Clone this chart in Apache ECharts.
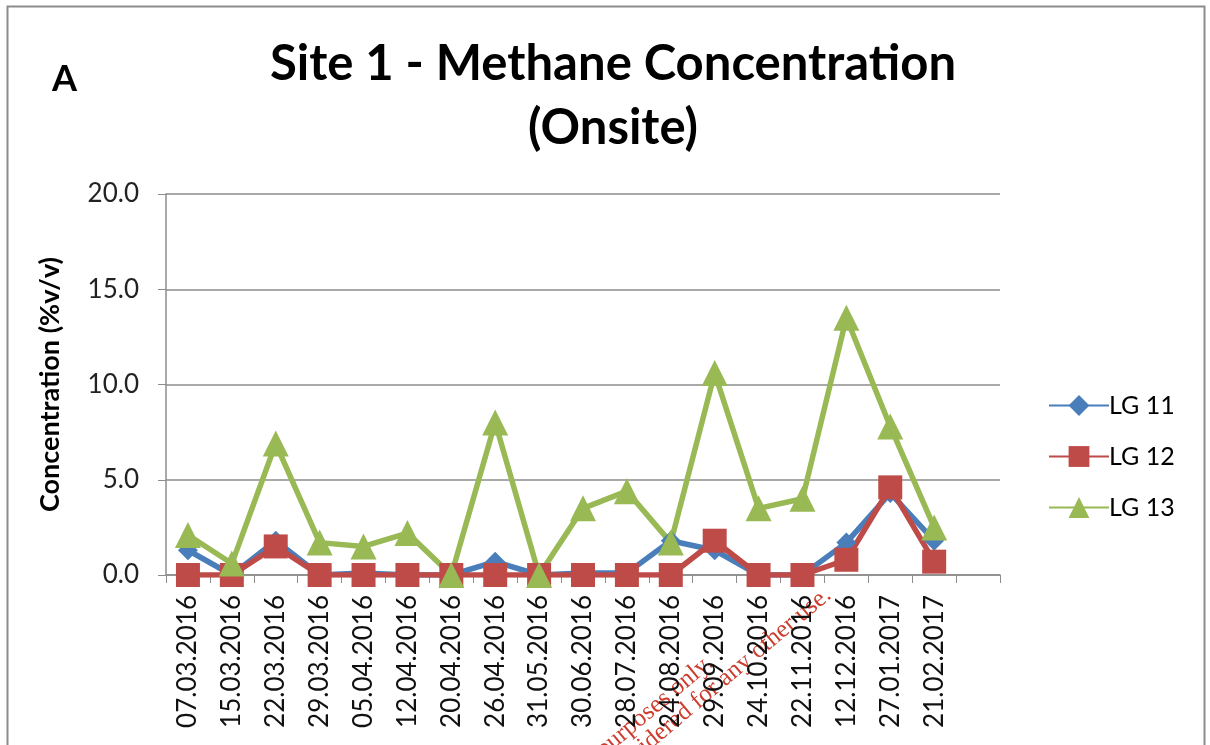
<!DOCTYPE html>
<html>
<head>
<meta charset="utf-8">
<script src="https://cdn.jsdelivr.net/npm/echarts@6/dist/echarts.min.js"></script>
<style>
    html, body { margin: 0; padding: 0; background: #fff; }
    #chart { width: 1210px; height: 745px; }
</style>
</head>
<body>
<div id="chart"></div>
<script>
// 采样日期（最后一格在原图中是空的）
var dates = ['07.03.2016', '15.03.2016', '22.03.2016', '29.03.2016', '05.04.2016', '12.04.2016',
    '20.04.2016', '26.04.2016', '31.05.2016', '30.06.2016', '28.07.2016', '24.08.2016',
    '29.09.2016', '24.10.2016', '22.11.2016', '12.12.2016', '27.01.2017', '21.02.2017', ''];
// 甲烷浓度 %v/v
var lg11 = [1.3, 0, 1.8, 0, 0.1, 0, 0, 0.7, 0, 0.1, 0.1, 1.8, 1.3, 0, 0, 1.7, 4.3, 1.8, null];
var lg12 = [0, 0, 1.5, 0, 0, 0, 0, 0, 0, 0, 0, 0, 1.8, 0, 0, 0.8, 4.6, 0.7, null];
var lg13 = [2.1, 0.6, 6.9, 1.7, 1.5, 2.2, 0, 8.0, 0, 3.5, 4.4, 1.7, 10.6, 3.5, 4.0, 13.5, 7.8, 2.5, null];
var yTicks = [0, 5, 10, 15, 20];

var font = 'Lato, "Open Sans", sans-serif';
var myChart = echarts.init(document.getElementById('chart'));

function lineSeries(name, data, color, symbol, size){
    return {
        name: name,
        type: 'line',
        data: data,
        symbol: symbol,
        symbolSize: size,
        lineStyle: { width: 5.5, color: color },
        itemStyle: { color: color },
        animation: false
    };
}

var wmAngle = Math.PI * 40 / 180;

var option = {
    backgroundColor: '#fff',
    textStyle: { fontFamily: font },
    title: {
        text: 'Site 1 - Methane Concentration\n(Onsite)',
        left: 608,
        top: 27,
        textAlign: 'center',
        textStyle: { fontSize: 49, fontWeight: 'bold', color: '#000', lineHeight: 64, fontFamily: font }
    },
    graphic: [
        // 外框
        {
            type: 'rect', shape: { x: 7.5, y: 6.5, width: 1197, height: 760 },
            style: { fill: 'none', stroke: '#8c8c8c', lineWidth: 2 }, silent: true
        },
        {
            type: 'text', left: 52, top: 61,
            style: { text: 'A', font: 'bold 36px ' + font, fill: '#000' }
        },
        // 水印（被裁切的部分）
        {
            type: 'text', x: 710, y: 660, rotation: wmAngle,
            style: { text: 'purposes only.', font: '25px "Liberation Serif", serif', fill: '#cc3d2e',
                textAlign: 'right', textVerticalAlign: 'middle' }
        },
        {
            type: 'text', x: 828, y: 592, rotation: wmAngle,
            style: { text: 'considered for any other use.', font: '25px "Liberation Serif", serif', fill: '#cc3d2e',
                textAlign: 'right', textVerticalAlign: 'middle' }
        }
    ],
    legend: {
        orient: 'vertical',
        left: 1043,
        top: 388,
        itemWidth: 60,
        itemHeight: 26,
        itemGap: 26,
        textStyle: { fontSize: 25, color: '#000', fontFamily: font, padding: [0, 0, 0, -5] },
        data: ['LG 11', 'LG 12', 'LG 13']
    },
    grid: { left: 166, top: 194, width: 834, height: 381, containLabel: false },
    xAxis: {
        type: 'category',
        data: dates,
        boundaryGap: true,
        axisLine: { lineStyle: { color: '#8c8c8c', width: 1.5 } },
        axisTick: { show: true, length: 8, lineStyle: { color: '#8c8c8c' } },
        axisLabel: { rotate: 90, interval: 0, fontSize: 26, color: '#111', margin: 20, fontFamily: font }
    },
    yAxis: {
        type: 'value',
        min: yTicks[0],
        max: yTicks[yTicks.length - 1],
        interval: 5,
        name: 'Concentration (%v/v)',
        nameLocation: 'middle',
        nameGap: 102,
        nameTextStyle: { fontSize: 27, fontWeight: 'bold', color: '#000', fontFamily: font },
        axisLine: { show: true, lineStyle: { color: '#8c8c8c', width: 1.5 } },
        axisTick: { show: true, length: 8, lineStyle: { color: '#8c8c8c' } },
        axisLabel: { fontSize: 26, color: '#222', margin: 27, fontFamily: font,
            formatter: function (v) { return v.toFixed(1); } },
        splitLine: { lineStyle: { color: '#8c8c8c', width: 1.5 } }
    },
    series: [
        lineSeries('LG 11', lg11, '#4A7EBB', 'diamond', 20),
        lineSeries('LG 12', lg12, '#BE4B48', 'rect', 24),
        lineSeries('LG 13', lg13, '#98B954', 'triangle', 26)
    ]
};
myChart.setOption(option);
</script>
</body>
</html>
